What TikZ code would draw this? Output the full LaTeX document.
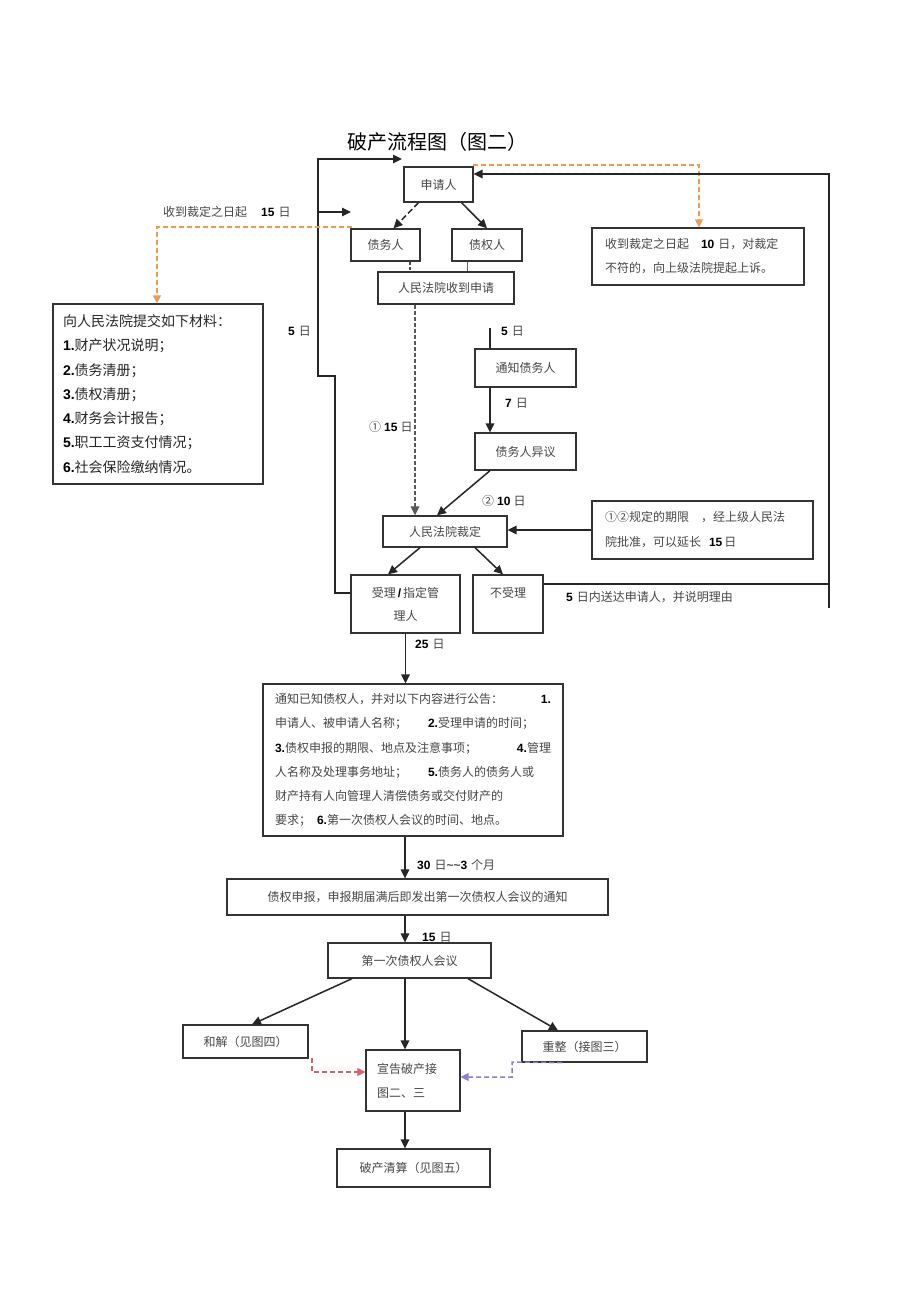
\documentclass[tikz,border=0pt]{standalone}
\usepackage{fontspec}
\setmainfont{Noto Sans CJK SC}
\newfontfamily\dgfont{Liberation Sans}
\usetikzlibrary{arrows.meta}
\newcommand\dg[1]{{\dgfont\bfseries\color{black}#1}}
\newcommand\pushright{\hskip 0pt plus 1fill\relax}
\definecolor{orangeline}{RGB}{240,155,85}
\definecolor{redline}{RGB}{225,95,95}
\definecolor{purpleline}{RGB}{145,125,205}
\definecolor{ink}{RGB}{70,70,70}
\tikzset{
  box/.style={draw=black!80, line width=1.3pt, fill=white, inner sep=0pt, text=ink,
    font=\fontsize{12}{14}\selectfont, align=center},
  lbl/.style={anchor=west, inner sep=0pt, text=ink, font=\fontsize{12}{14}\selectfont},
  conn/.style={draw=black!85, line width=1.5pt},
  arr/.style={conn, -{Triangle[length=9pt,width=8.5pt]}},
  darr/.style={arr, dash pattern=on 6pt off 3pt},
  oarr/.style={draw=orangeline, line width=1.5pt, dash pattern=on 5pt off 3pt, -{Triangle[length=8pt,width=8pt]}},
  rarr/.style={draw=redline, line width=1.5pt, dash pattern=on 5pt off 3pt, -{Triangle[length=8pt,width=8pt]}},
  parr/.style={draw=purpleline, line width=1.5pt, dash pattern=on 5pt off 3pt, -{Triangle[length=8pt,width=8pt]}},
}
\begin{document}
\begin{tikzpicture}[x=1pt,y=-1pt]
\useasboundingbox[fill=white] (0,0) rectangle (920,1303);

% title
\node[font=\fontsize{20}{24}\selectfont, text=black] (title) at (437,142) {破产流程图（图二）};

% boxes
\node[box, minimum width=69pt, minimum height=35pt] (app) at (438.5,184.5) {申请人};
\node[box, minimum width=69pt, minimum height=32pt] (dbt) at (385.5,245) {债务人};
\node[box, minimum width=70pt, minimum height=32pt] (cdt) at (487,245) {债权人};
\node[box, minimum width=136pt, minimum height=32pt] (rcv) at (446,288) {人民法院收到申请};
\node[box, minimum width=212pt, minimum height=57pt, text width=186pt, align=left,
      font=\fontsize{12}{24}\selectfont] (apl) at (698,256.5)
  {收到裁定之日起\hspace{12pt}\dg{10}\hspace{4pt}日，对裁定\\不符的，向上级法院提起上诉。};
\node[box, minimum width=210pt, minimum height=180pt, text width=190pt, align=left,
      text=black!85, font=\fontsize{14}{24.3}\selectfont] (mat) at (158,394)
  {向人民法院提交如下材料：\\
   \dg{1.}财产状况说明；\\
   \dg{2.}债务清册；\\
   \dg{3.}债权清册；\\
   \dg{4.}财务会计报告；\\
   \dg{5.}职工工资支付情况；\\
   \dg{6.}社会保险缴纳情况。};
\node[box, minimum width=101pt, minimum height=38pt] (ntf) at (525.5,368) {通知债务人};
\node[box, minimum width=101pt, minimum height=37pt] (obj) at (525.5,451.5) {债务人异议};
\node[box, minimum width=124pt, minimum height=31pt] (rul) at (445,531.5) {人民法院裁定};
\node[box, minimum width=221pt, minimum height=58pt, text width=195pt, align=left,
      font=\fontsize{12}{25}\selectfont] (ext) at (702.5,530)
  {①②规定的期限\hspace{12pt}，经上级人民法\\院批准，可以延长\hspace{8pt}\dg{15}\hspace{2pt}日};
\node[box, minimum width=109pt, minimum height=58pt, font=\fontsize{12}{23}\selectfont] (acc) at (405.5,604)
  {受理\,\dg{/}\,指定管\\理人};
\node[box, minimum width=70pt, minimum height=58pt, font=\fontsize{12}{23}\selectfont] (rej) at (508,604)
  {不受理\\\mbox{}};
\node[box, minimum width=300pt, minimum height=152pt, text width=276pt, align=left,
      font=\fontsize{12}{24.2}\selectfont] (ann) at (413,760)
  {通知已知债权人，并对以下内容进行公告：\pushright\dg{1.}\\
   申请人、被申请人名称；\hspace{21pt}\dg{2.}受理申请的时间；\\
   \dg{3.}债权申报的期限、地点及注意事项；\pushright\dg{4.}管理\\
   人名称及处理事务地址；\hspace{21pt}\dg{5.}债务人的债务人或\\
   财产持有人向管理人清偿债务或交付财产的\\
   要求；\hspace{6pt}\dg{6.}第一次债权人会议的时间、地点。};
\node[box, minimum width=381pt, minimum height=36pt] (clm) at (417.5,897)
  {债权申报，申报期届满后即发出第一次债权人会议的通知};
\node[box, minimum width=163pt, minimum height=35pt] (mtg) at (409.5,960.5) {第一次债权人会议};
\node[box, minimum width=125pt, minimum height=33pt] (rec) at (245.5,1041.5) {和解（见图四）};
\node[box, minimum width=94pt, minimum height=61pt, text width=72pt, align=left,
      font=\fontsize{12}{24}\selectfont] (dec) at (413,1080.5) {宣告破产接\\图二、三};
\node[box, minimum width=125pt, minimum height=31pt] (reo) at (584.5,1046.5) {重整（接图三）};
\node[box, minimum width=153pt, minimum height=38pt] (liq) at (413.5,1168) {破产清算（见图五）};

% labels
\node[lbl] (l15a) at (163,212) {收到裁定之日起\hspace{14pt}\dg{15}\hspace{4pt}日};
\node[lbl] (l5a) at (288,331) {\dg{5}\hspace{4pt}日};
\node[lbl] (l5b) at (501,331) {\dg{5}\hspace{4pt}日};
\node[lbl] (l7) at (505,403) {\dg{7}\hspace{4pt}日};
\node[lbl] (l15b) at (369,427) {①\hspace{3pt}\dg{15}\hspace{3pt}日};
\node[lbl] (l10) at (482,501) {②\hspace{3pt}\dg{10}\hspace{3pt}日};
\node[lbl] (l5c) at (566,597) {\dg{5}\hspace{4pt}日内送达申请人，并说明理由};
\node[lbl] (l25) at (415,644) {\dg{25}\hspace{4pt}日};
\node[lbl] (l30) at (417,865) {\dg{30}\hspace{4pt}日{\dgfont\bfseries\textasciitilde\textasciitilde}\dg{3}\hspace{4pt}个月};
\node[lbl] (l15c) at (422,937) {\dg{15}\hspace{4pt}日};

% left feedback line
\coordinate (lt) at (318,159);
\coordinate (topend) at (402,159);
\coordinate (lstepA) at (318,376);
\coordinate (lstepB) at (335,376);
\coordinate (lbot) at (335,593);
\draw[arr] ([yshift=11pt]acc.west) -- (lbot) -- (lstepB) -- (lstepA) -- (lt) -- (topend);
\coordinate (lmid) at (318,212);
\coordinate (midend) at (351,212);
\draw[arr] (lmid) -- (midend);

% orange dashed
\coordinate (o1s) at (352,227);
\coordinate (o1c) at (157,227);
\draw[oarr] (o1s) -- (o1c) -- (o1c |- mat.north);
\coordinate (o2s) at (473,165);
\coordinate (o2c) at (699,165);
\draw[oarr] (o2s) -- (o2c) -- (o2c |- apl.north);

% right return line
\coordinate (rb) at (829,608);
\coordinate (rt) at (829,174);
\draw[arr] (rb) -- (rt) -- (rt -| app.east);
\draw[conn] ([yshift=20pt]rej.east) -- ([yshift=20pt]rej.east -| rb);

% top part
\draw[darr] ([xshift=-20pt]app.south) -- ([xshift=8pt]dbt.north);
\draw[arr] ([xshift=23pt]app.south) -- (cdt.north);
\draw[draw=black!70, line width=1.4pt, dash pattern=on 3pt off 2pt] ([xshift=24.5pt]dbt.south) -- ([xshift=24.5pt]dbt.south |- rcv.north);
\draw[draw=black!60, line width=0.8pt] ([xshift=-20pt]cdt.south) -- ([xshift=-20pt]cdt.south |- rcv.north);
\draw[draw=black!65, line width=1.8pt, dash pattern=on 4pt off 2pt, -{Triangle[length=9pt,width=8.5pt]}]
  ([xshift=-31pt]rcv.south) -- ([xshift=-31pt]rcv.south |- rul.north);

% right column
\coordinate (n5) at (490,328);
\draw[conn] (n5) -- (n5 |- ntf.north);
\draw[arr] ([xshift=-35.5pt]ntf.south) -- ([xshift=-35.5pt]obj.north);
\draw[arr] ([xshift=-35.5pt]obj.south) -- ([xshift=-8pt]rul.north);
\draw[arr] (ext.west) -- (ext.west -| rul.east);
\draw[arr] ([xshift=-25pt]rul.south) -- ([xshift=-17.5pt]acc.north);
\draw[arr] ([xshift=30pt]rul.south) -- ([xshift=-5pt]rej.north);

% main column
\draw[arr] (acc.south) -- (acc.south |- ann.north);
\draw[arr] ([xshift=-8pt]ann.south) -- ([xshift=-8pt]ann.south |- clm.north);
\draw[arr] ([xshift=-8pt]ann.south |- clm.south) -- ([xshift=-8pt]ann.south |- mtg.north);
\draw[arr] ([xshift=-57.5pt]mtg.south) -- ([xshift=6.5pt]rec.north);
\draw[arr] ([xshift=-4.5pt]mtg.south) -- ([xshift=-8pt]dec.north);
\draw[arr] ([xshift=58.5pt]mtg.south) -- ([xshift=-26.5pt]reo.north);
\draw[arr] ([xshift=-8pt]dec.south) -- ([xshift=-8pt]dec.south |- liq.north);

% dashed joins into dec
\coordinate (rd1) at (312,1058);
\draw[rarr] (rd1) |- ([yshift=8.5pt]dec.west);
\coordinate (pd1) at (512,1062);
\draw[parr] ([xshift=-22.5pt]reo.south) -- (pd1) |- ([yshift=3.5pt]dec.east);
\end{tikzpicture}
\end{document}
